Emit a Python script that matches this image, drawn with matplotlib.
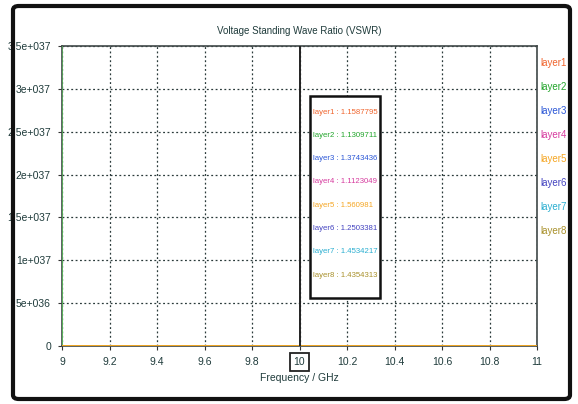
import matplotlib
matplotlib.use("Agg")
import matplotlib.pyplot as plt
from matplotlib.patches import Rectangle, FancyBboxPatch

plt.rcParams['font.family'] = ["Liberation Sans", "DejaVu Sans"]

freq = [9.0, 9.001, 9.2, 9.4, 9.6, 9.8, 10.0, 10.2, 10.4, 10.6, 10.8, 11.0]
layer_names = ["layer1", "layer2", "layer3", "layer4", "layer5", "layer6", "layer7", "layer8"]
marker_vals = ["1.1587795", "1.1309711", "1.3743436", "1.1123049",
               "1.560981", "1.2503381", "1.4534217", "1.4354313"]
layer1 = [1.3, 1.3, 1.2, 1.2, 1.2, 1.2, 1.16, 1.2, 1.3, 1.4, 1.5, 1.6]
layer2 = [4.0e37, 1.3, 1.2, 1.2, 1.1, 1.1, 1.13, 1.2, 1.3, 1.4, 1.5, 1.6]
layer3 = [1.6, 1.6, 1.5, 1.4, 1.4, 1.4, 1.37, 1.4, 1.5, 1.6, 1.7, 1.8]
layer4 = [1.3, 1.3, 1.2, 1.2, 1.1, 1.1, 1.11, 1.2, 1.3, 1.4, 1.5, 1.6]
layer5 = [1.8, 1.8, 1.7, 1.6, 1.6, 1.6, 1.56, 1.6, 1.7, 1.8, 1.9, 2.0]
layer6 = [1.5, 1.5, 1.4, 1.3, 1.3, 1.3, 1.25, 1.3, 1.4, 1.5, 1.6, 1.7]
layer7 = [1.7, 1.7, 1.6, 1.5, 1.5, 1.5, 1.45, 1.5, 1.6, 1.7, 1.8, 1.9]
layer8 = [1.7, 1.7, 1.6, 1.5, 1.5, 1.4, 1.44, 1.5, 1.6, 1.7, 1.8, 1.9]
series = [layer1, layer2, layer3, layer4, layer5, layer6, layer7, layer8]
colors = ["#f0642d", "#22a52b", "#2a56d6", "#d63a9e", "#f5a623", "#4343c0", "#2aaed0", "#a8902a"]

yticks = [0, 5e36, 1e37, 1.5e37, 2e37, 2.5e37, 3e37, 3.5e37]
ytick_labels = ["0", "5e+036", "1e+037", "1.5e+037", "2e+037", "2.5e+037", "3e+037", "3.5e+037"]
xticks = [9, 9.2, 9.4, 9.6, 9.8, 10, 10.2, 10.4, 10.6, 10.8, 11]
xtick_labels = ["9", "9.2", "9.4", "9.6", "9.8", "10", "10.2", "10.4", "10.6", "10.8", "11"]
marker_x = 10.0

txt = "#1f3b3b"
fig = plt.figure(figsize=(5.78, 4.04), dpi=100)
ax = fig.add_axes([62/578, 1-346/404, (537-62)/578, (346-46)/404])

order = [0, 2, 3, 5, 6, 1, 7, 4]
for z, i in enumerate(order):
    lw = 0.9 if i == 1 else 1.3
    c = "#5cc05c" if i == 1 else colors[i]
    ax.plot(freq, series[i], color=c, lw=lw, zorder=3 + z * 0.1)

ax.set_xlim(9, 11)
ax.set_ylim(0, 3.5e37)
ax.set_xticks(xticks)
ax.set_xticklabels(xtick_labels, fontsize=7.5, color=txt)
ax.set_yticks(yticks)
ax.set_yticklabels(ytick_labels, fontsize=7.5, color=txt)
ax.tick_params(axis='both', length=3, color="#333333", pad=5)
ax.grid(True, ls=(0, (1.5, 2.0)), color="#2a3a3a", lw=0.9)
for s in ax.spines.values():
    s.set_color("#404848")
    s.set_linewidth(1.2)

ax.axvline(marker_x, color="#222222", lw=1.4, zorder=5)

ax.set_title("Voltage Standing Wave Ratio (VSWR)", fontsize=7, color=txt, pad=9)
ax.set_xlabel("Frequency / GHz", fontsize=7.5, color=txt, labelpad=4)

# box around the marker tick label "10"
lbl = ax.get_xticklabels()[5]
lbl.set_bbox(dict(boxstyle="square,pad=0.35", fc="white", ec="#222222", lw=1.3))

# marker values box
box = Rectangle((310/578, 1-298/404), 70/578, (298-96)/404, transform=fig.transFigure,
                fc="white", ec="#111111", lw=1.8, zorder=6)
fig.patches.append(box)
for k, (name, val) in enumerate(zip(layer_names, marker_vals)):
    fig.text(313/578, 1-(112 + k*23.3)/404, f"{name} : {val}", color=colors[k],
             fontsize=5.6, va="center", ha="left", zorder=7)

# right-side legend
for k, name in enumerate(layer_names):
    fig.text(540/578, 1-(63 + k*24)/404, name, color=colors[k], fontsize=7,
             va="center", ha="left")

# outer frame
frame = FancyBboxPatch((13/578, 5/404), (570-13)/578, (398-5)/404,
                       boxstyle="round,pad=0,rounding_size=0.01", transform=fig.transFigure,
                       fc="none", ec="#111111", lw=3)
fig.patches.append(frame)

fig.savefig("out.png", dpi=100)
